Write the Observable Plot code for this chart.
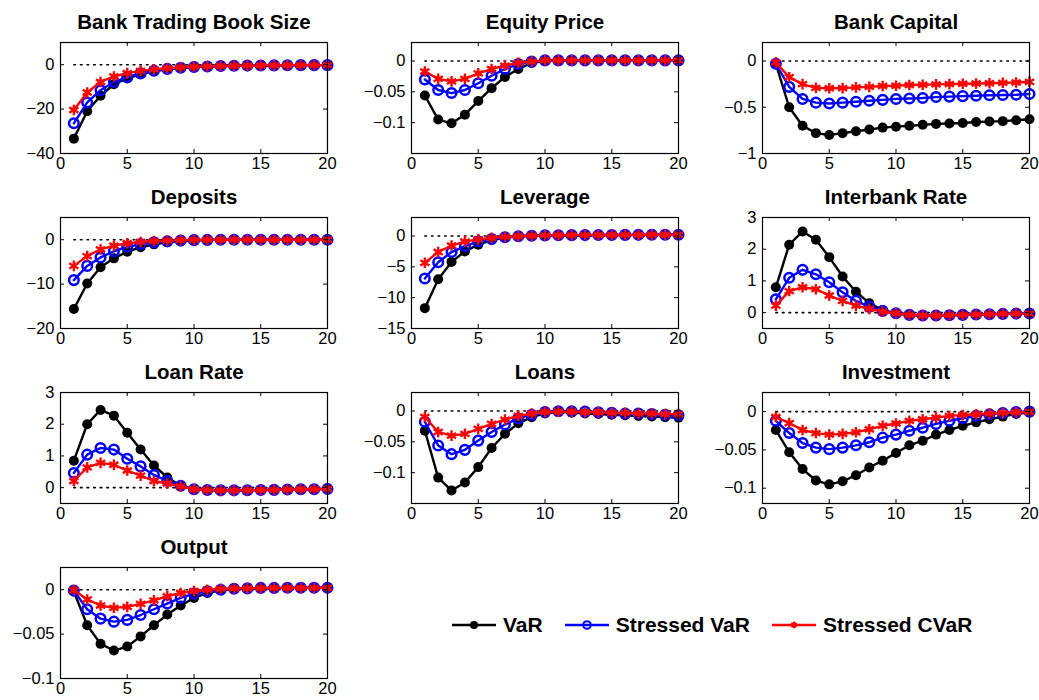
<!DOCTYPE html>
<html><head><meta charset="utf-8">
<script src="https://cdn.jsdelivr.net/npm/d3@7"></script>
<script src="https://cdn.jsdelivr.net/npm/@observablehq/plot@0.6"></script>
<style>
body{margin:0;background:#fff;}
#root{position:relative;width:1039px;height:700px;background:#fff;font-family:"Liberation Sans",Arial,Helvetica,sans-serif;}
#root svg.panel{position:absolute;}
#legend{position:absolute;left:451px;top:613px;display:flex;align-items:center;font-weight:bold;font-size:21px;color:#000;white-space:nowrap;}
#legend .item{display:flex;align-items:center;margin-right:21px;}
#legend .item span{margin-left:6px;}
</style></head><body><div id="root"><div id="legend"></div></div>
<script>
// ---- categories / labels ----
const periods = d3.range(1, 21);
const seriesNames = ["VaR", "Stressed VaR", "Stressed CVaR"];
const seriesColors = ["#000000", "#0000ff", "#ff0000"];
const xTicks = [0, 5, 10, 15, 20];

// ---- Bank Trading Book Size ----
const bookVaR   = [-33.3,-21,-14,-8.8,-6.2,-4.3,-3,-2.1,-1.5,-1.1,-0.8,-0.6,-0.5,-0.4,-0.35,-0.3,-0.25,-0.2,-0.2,-0.2];
const bookSVaR  = [-26.4,-17,-11.5,-7.8,-5.6,-3.9,-2.7,-1.9,-1.4,-1.05,-0.8,-0.6,-0.5,-0.4,-0.35,-0.3,-0.25,-0.2,-0.2,-0.2];
const bookSCVaR = [-20.4,-12.5,-7.8,-5.3,-3.8,-2.8,-2.1,-1.6,-1.2,-0.95,-0.75,-0.6,-0.5,-0.4,-0.35,-0.3,-0.25,-0.2,-0.2,-0.2];
// ---- Equity Price ----
const eqVaR   = [-0.056,-0.095,-0.101,-0.087,-0.065,-0.044,-0.026,-0.013,-0.003,0,0.001,0.001,0.001,0.001,0.001,0.001,0.001,0.001,0.001,0.001];
const eqSVaR  = [-0.030,-0.047,-0.052,-0.047,-0.036,-0.024,-0.013,-0.005,-0.001,0.001,0.001,0.001,0.001,0.001,0.001,0.001,0.001,0.001,0.001,0.001];
const eqSCVaR = [-0.017,-0.029,-0.033,-0.029,-0.020,-0.013,-0.0075,-0.003,-0.001,0.001,0.001,0.001,0.001,0.001,0.001,0.001,0.001,0.001,0.001,0.001];
// ---- Bank Capital ----
const capVaR   = [-0.03,-0.50,-0.70,-0.78,-0.80,-0.78,-0.76,-0.74,-0.72,-0.71,-0.70,-0.69,-0.68,-0.675,-0.67,-0.66,-0.655,-0.65,-0.64,-0.63];
const capSVaR  = [-0.03,-0.28,-0.41,-0.45,-0.46,-0.45,-0.44,-0.43,-0.42,-0.41,-0.405,-0.40,-0.39,-0.385,-0.38,-0.375,-0.37,-0.368,-0.365,-0.357];
const capSCVaR = [-0.015,-0.175,-0.25,-0.29,-0.295,-0.293,-0.285,-0.28,-0.27,-0.268,-0.26,-0.257,-0.253,-0.25,-0.246,-0.243,-0.24,-0.236,-0.233,-0.225];
// ---- Deposits ----
const depVaR   = [-15.6,-9.85,-6.2,-4.2,-2.7,-1.7,-1.05,-0.6,-0.35,-0.2,-0.1,-0.05,0,0,0,0,0,0,0,0];
const depSVaR  = [-9.1,-5.9,-4.0,-2.6,-1.6,-1.0,-0.6,-0.35,-0.2,-0.1,-0.05,0,0,0,0,0,0,0,0,0];
const depSCVaR = [-5.9,-3.7,-2.2,-1.35,-0.8,-0.5,-0.3,-0.2,-0.1,-0.05,0,0,0,0,0,0,0,0,0,0];
// ---- Leverage ----
const levVaR   = [-11.7,-7.0,-4.2,-2.5,-1.4,-0.65,-0.27,-0.05,0.05,0.1,0.12,0.14,0.15,0.16,0.17,0.18,0.19,0.2,0.2,0.2];
const levSVaR  = [-6.9,-4.25,-2.6,-1.65,-0.9,-0.5,-0.2,-0.05,0.05,0.1,0.12,0.14,0.15,0.16,0.17,0.18,0.19,0.2,0.2,0.2];
const levSCVaR = [-4.35,-2.6,-1.55,-0.9,-0.55,-0.3,-0.15,-0.05,0.05,0.1,0.12,0.14,0.15,0.16,0.17,0.18,0.19,0.2,0.2,0.2];
// ---- Interbank Rate ----
const ibVaR   = [0.8,2.14,2.56,2.3,1.75,1.14,0.66,0.3,0.08,-0.02,-0.07,-0.09,-0.09,-0.08,-0.07,-0.06,-0.05,-0.04,-0.03,-0.03];
const ibSVaR  = [0.42,1.1,1.35,1.21,0.96,0.64,0.37,0.19,0.05,-0.02,-0.07,-0.09,-0.09,-0.08,-0.07,-0.06,-0.05,-0.04,-0.03,-0.03];
const ibSCVaR = [0.22,0.68,0.8,0.74,0.54,0.37,0.22,0.12,0.03,-0.02,-0.07,-0.09,-0.09,-0.08,-0.07,-0.06,-0.05,-0.04,-0.03,-0.03];
// ---- Loan Rate ----
const lrVaR   = [0.85,2.0,2.45,2.27,1.73,1.2,0.7,0.32,0.06,-0.05,-0.075,-0.085,-0.085,-0.08,-0.075,-0.07,-0.06,-0.05,-0.05,-0.04];
const lrSVaR  = [0.46,1.04,1.25,1.2,0.91,0.67,0.4,0.21,0.06,-0.05,-0.075,-0.085,-0.085,-0.08,-0.075,-0.07,-0.06,-0.05,-0.05,-0.04];
const lrSCVaR = [0.21,0.64,0.78,0.72,0.54,0.38,0.21,0.13,0.04,-0.05,-0.075,-0.085,-0.085,-0.08,-0.075,-0.07,-0.06,-0.05,-0.05,-0.04];
// ---- Loans ----
const loanVaR   = [-0.032,-0.108,-0.129,-0.116,-0.091,-0.060,-0.037,-0.020,-0.010,-0.004,-0.0015,-0.0027,-0.004,-0.005,-0.006,-0.007,-0.008,-0.009,-0.010,-0.011];
const loanSVaR  = [-0.0175,-0.056,-0.070,-0.063,-0.048,-0.034,-0.022,-0.012,-0.006,-0.0016,-0.0005,-0.0005,-0.001,-0.002,-0.003,-0.004,-0.004,-0.005,-0.006,-0.007];
const loanSCVaR = [-0.0096,-0.034,-0.040,-0.037,-0.029,-0.021,-0.014,-0.008,-0.004,-0.0016,-0.001,-0.001,-0.002,-0.002,-0.003,-0.003,-0.004,-0.004,-0.005,-0.005];
// ---- Investment ----
const invVaR   = [-0.024,-0.053,-0.075,-0.090,-0.095,-0.091,-0.083,-0.073,-0.064,-0.054,-0.044,-0.038,-0.030,-0.024,-0.0185,-0.014,-0.010,-0.0065,-0.003,-0.001];
const invSVaR  = [-0.012,-0.028,-0.041,-0.047,-0.049,-0.047,-0.044,-0.040,-0.034,-0.030,-0.025,-0.021,-0.016,-0.012,-0.0086,-0.0056,-0.0035,-0.0017,-0.0004,0];
const invSCVaR = [-0.007,-0.015,-0.024,-0.028,-0.030,-0.029,-0.027,-0.023,-0.0185,-0.0155,-0.012,-0.010,-0.0078,-0.0056,-0.0043,-0.0034,-0.0026,-0.0017,-0.0009,-0.0004];
// ---- Output ----
const outVaR   = [-0.002,-0.040,-0.061,-0.0685,-0.064,-0.0526,-0.040,-0.028,-0.0178,-0.0093,-0.0037,-0.0007,0.0007,0.0011,0.0015,0.0018,0.0018,0.0022,0.0022,0.0022];
const outSVaR  = [-0.001,-0.022,-0.0326,-0.036,-0.034,-0.0285,-0.022,-0.0156,-0.0093,-0.0044,-0.0018,0,0.001,0.0015,0.002,0.002,0.0022,0.0022,0.0022,0.0022];
const outSCVaR = [-0.0004,-0.011,-0.0178,-0.0204,-0.0193,-0.016,-0.012,-0.0074,-0.0037,-0.0015,0,0.001,0.0013,0.0015,0.0018,0.002,0.002,0.002,0.002,0.002];

// ---- panel titles, y domains, y ticks ----
const panelTitles = ["Bank Trading Book Size","Equity Price","Bank Capital","Deposits","Leverage","Interbank Rate","Loan Rate","Loans","Investment","Output"];
const panelYDomains = [[-40,10],[-0.15,0.03],[-1,0.2],[-20,5],[-15,3],[-0.5,3],[-0.5,3],[-0.15,0.03],[-0.12,0.025],[-0.1,0.025]];
const panelYTicks = [[-40,-20,0],[-0.1,-0.05,0],[-1,-0.5,0],[-20,-10,0],[-15,-10,-5,0],[0,1,2,3],[0,1,2,3],[-0.1,-0.05,0],[-0.1,-0.05,0],[-0.1,-0.05,0]];
const panelSeries = [
  [bookVaR, bookSVaR, bookSCVaR],
  [eqVaR, eqSVaR, eqSCVaR],
  [capVaR, capSVaR, capSCVaR],
  [depVaR, depSVaR, depSCVaR],
  [levVaR, levSVaR, levSCVaR],
  [ibVaR, ibSVaR, ibSCVaR],
  [lrVaR, lrSVaR, lrSCVaR],
  [loanVaR, loanSVaR, loanSCVaR],
  [invVaR, invSVaR, invSCVaR],
  [outVaR, outSVaR, outSCVaR]
];

const FONT = '"Liberation Sans", Arial, Helvetica, sans-serif';
const W = 351, H = 175, mL = 60, mR = 24, mT = 42, mB = 22;
const iw = W - mL - mR, ih = H - mT - mB;
const root = document.getElementById("root");
const fmt = d3.format("");

panelTitles.forEach((title, i) => {
  const seriesMarks = [];
  panelSeries[i].forEach((vals, s) => {
    const rows = vals.map((v, k) => ({period: periods[k], value: v}));
    seriesMarks.push(Plot.line(rows, {x: "period", y: "value", stroke: seriesColors[s], strokeWidth: 2.4}));
    if (s === 0) {
      seriesMarks.push(Plot.dot(rows, {x: "period", y: "value", r: 5, fill: seriesColors[s], stroke: "none"}));
    } else if (s === 1) {
      seriesMarks.push(Plot.dot(rows, {x: "period", y: "value", r: 4.8, fill: "none", stroke: seriesColors[s], strokeWidth: 2.5}));
    } else {
      seriesMarks.push(Plot.dot(rows, {x: "period", y: "value", r: 5, symbol: "asterisk", stroke: seriesColors[s], strokeWidth: 2.4}));
    }
  });
  const yTicks = panelYTicks[i];
  const chart = Plot.plot({
    width: W, height: H,
    marginLeft: mL, marginRight: mR, marginTop: mT, marginBottom: mB,
    style: {fontFamily: FONT, fontSize: "16.5px", background: "transparent", overflow: "visible", color: "#000"},
    x: {domain: [0, 20], ticks: xTicks, tickSize: 0, tickPadding: 4, tickFormat: fmt, label: null},
    y: {domain: panelYDomains[i], ticks: yTicks, tickSize: 0, tickPadding: 6, tickFormat: fmt, label: null},
    marks: [
      Plot.line(periods, {x: d => d, y: () => 0, stroke: "#000", strokeWidth: 1.6, strokeDasharray: "1.6,5"}),
      ...seriesMarks,
      Plot.frame({stroke: "#000", strokeWidth: 1.2}),
      Plot.tickX(xTicks, {x: d => d, insetTop: ih - 4, stroke: "#000"}),
      Plot.tickX(xTicks, {x: d => d, insetBottom: ih - 4, stroke: "#000"}),
      Plot.tickY(yTicks, {y: d => d, insetRight: iw - 4, stroke: "#000"}),
      Plot.tickY(yTicks, {y: d => d, insetLeft: iw - 4, stroke: "#000"}),
      Plot.text([title], {text: d => d, frameAnchor: "top", dy: -20, lineAnchor: "middle", fontSize: 20.5, fontWeight: "bold", fill: "#000"})
    ]
  });
  chart.classList.add("panel");
  chart.style.left = (i % 3) * 351 + "px";
  chart.style.top = Math.floor(i / 3) * 175 + "px";
  root.appendChild(chart);
});

// ---- legend ----
const legend = d3.select("#legend");
seriesNames.forEach((name, s) => {
  const item = legend.append("div").attr("class", "item");
  const svg = item.append("svg").attr("width", 46).attr("height", 20);
  svg.append("line").attr("x1", 1).attr("x2", 45).attr("y1", 10).attr("y2", 10)
    .attr("stroke", seriesColors[s]).attr("stroke-width", 2.4);
  if (s === 0) {
    svg.append("circle").attr("cx", 23).attr("cy", 10).attr("r", 4).attr("fill", seriesColors[s]);
  } else if (s === 1) {
    svg.append("circle").attr("cx", 23).attr("cy", 10).attr("r", 3.8).attr("fill", "none").attr("stroke", seriesColors[s]).attr("stroke-width", 2);
  } else {
    svg.append("path").attr("transform", "translate(23,10)").attr("d", d3.symbol(d3.symbolAsterisk, 30)())
      .attr("stroke", seriesColors[s]).attr("stroke-width", 2.4).attr("fill", "none");
  }
  item.append("span").text(name);
});
</script></body></html>
